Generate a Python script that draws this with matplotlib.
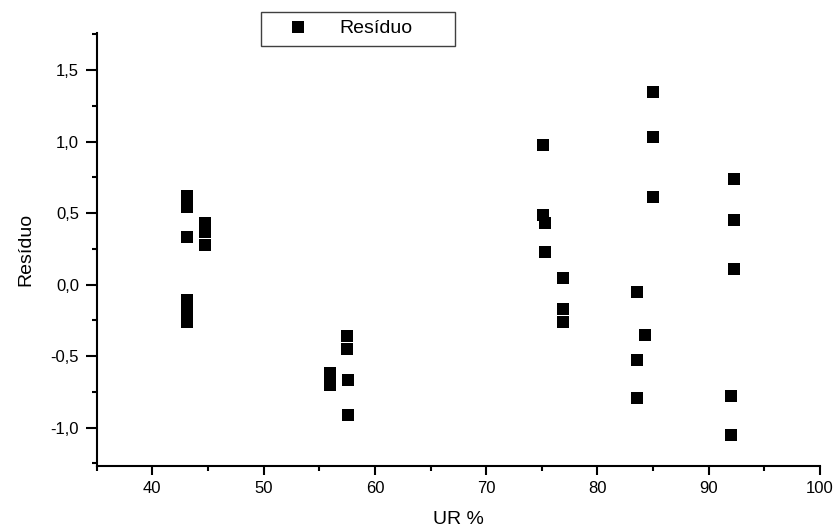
import matplotlib
matplotlib.use("Agg")
import matplotlib.pyplot as plt

plt.rcParams['font.family'] = ['Liberation Sans', 'DejaVu Sans']

# Relative humidity (%) and residual values
ur = [43.15, 43.15, 43.15, 43.15, 43.15, 43.15,
      44.7, 44.7, 44.7,
      56.0, 56.0, 56.0,
      57.5, 57.5, 57.6, 57.6,
      75.07, 75.07, 75.28, 75.3,
      76.9, 76.9, 76.9,
      83.6, 84.3, 83.6, 83.6,
      84.99, 84.99, 84.99,
      92.0, 92.0,
      92.3, 92.3, 92.3]
residuo = [0.62, 0.54, 0.33, -0.11, -0.18, -0.26,
           0.43, 0.37, 0.28,
           -0.62, -0.66, -0.70,
           -0.36, -0.45, -0.67, -0.91,
           0.98, 0.49, 0.43, 0.23,
           0.05, -0.17, -0.26,
           -0.05, -0.35, -0.53, -0.79,
           1.345, 1.03, 0.61,
           -0.78, -1.05,
           0.74, 0.45, 0.11]

x_ticks = [40, 50, 60, 70, 80, 90, 100]
x_tick_labels = ["40", "50", "60", "70", "80", "90", "100"]
y_ticks = [-1.0, -0.5, 0.0, 0.5, 1.0, 1.5]
y_tick_labels = ["-1,0", "-0,5", "0,0", "0,5", "1,0", "1,5"]
x_minor = [35, 45, 55, 65, 75, 85, 95]
y_minor = [-1.25, -0.75, -0.25, 0.25, 0.75, 1.25, 1.75]

fig = plt.figure(figsize=(8.38, 5.31), dpi=100)
ax = fig.add_axes([0.1154, 0.1224, 0.8631, 0.8149])

ax.plot(ur, residuo, linestyle='none', marker='s', markersize=8,
        markeredgewidth=0, color='black', label='Resíduo')

ax.set_xlim(35, 100)
ax.set_ylim(-1.268, 1.758)

ax.set_xticks(x_ticks)
ax.set_xticklabels(x_tick_labels)
ax.set_yticks(y_ticks)
ax.set_yticklabels(y_tick_labels)
ax.set_xticks(x_minor, minor=True)
ax.set_yticks(y_minor, minor=True)

for side in ('top', 'right'):
    ax.spines[side].set_visible(False)
for side in ('left', 'bottom'):
    ax.spines[side].set_linewidth(1.5)

ax.tick_params(axis='both', which='major', direction='out', width=1.5,
               labelsize=12, colors='black')
ax.tick_params(axis='y', which='major', length=7.7, pad=5.0)
ax.tick_params(axis='x', which='major', length=6.5, pad=4.0)
ax.tick_params(axis='both', which='minor', direction='out', length=3.6, width=1.5)

ax.set_xlabel('UR %', fontsize=14, labelpad=11)
ax.set_ylabel('Resíduo', fontsize=14, labelpad=12)

leg = ax.legend(loc='upper left', mode='expand',
                bbox_to_anchor=(260.7 / 838, 1 - 45 / 531, 194.3 / 838, 33.3 / 531),
                bbox_transform=fig.transFigure, borderaxespad=0,
                fontsize=14, frameon=True, fancybox=False, shadow=False,
                borderpad=0.42, handlelength=3.0, handletextpad=0.65,
                numpoints=1)
frame = leg.get_frame()
frame.set_edgecolor('#404040')
frame.set_linewidth(1.0)
frame.set_facecolor('white')
frame.set_alpha(1.0)

fig.savefig('out.png', dpi=100)
